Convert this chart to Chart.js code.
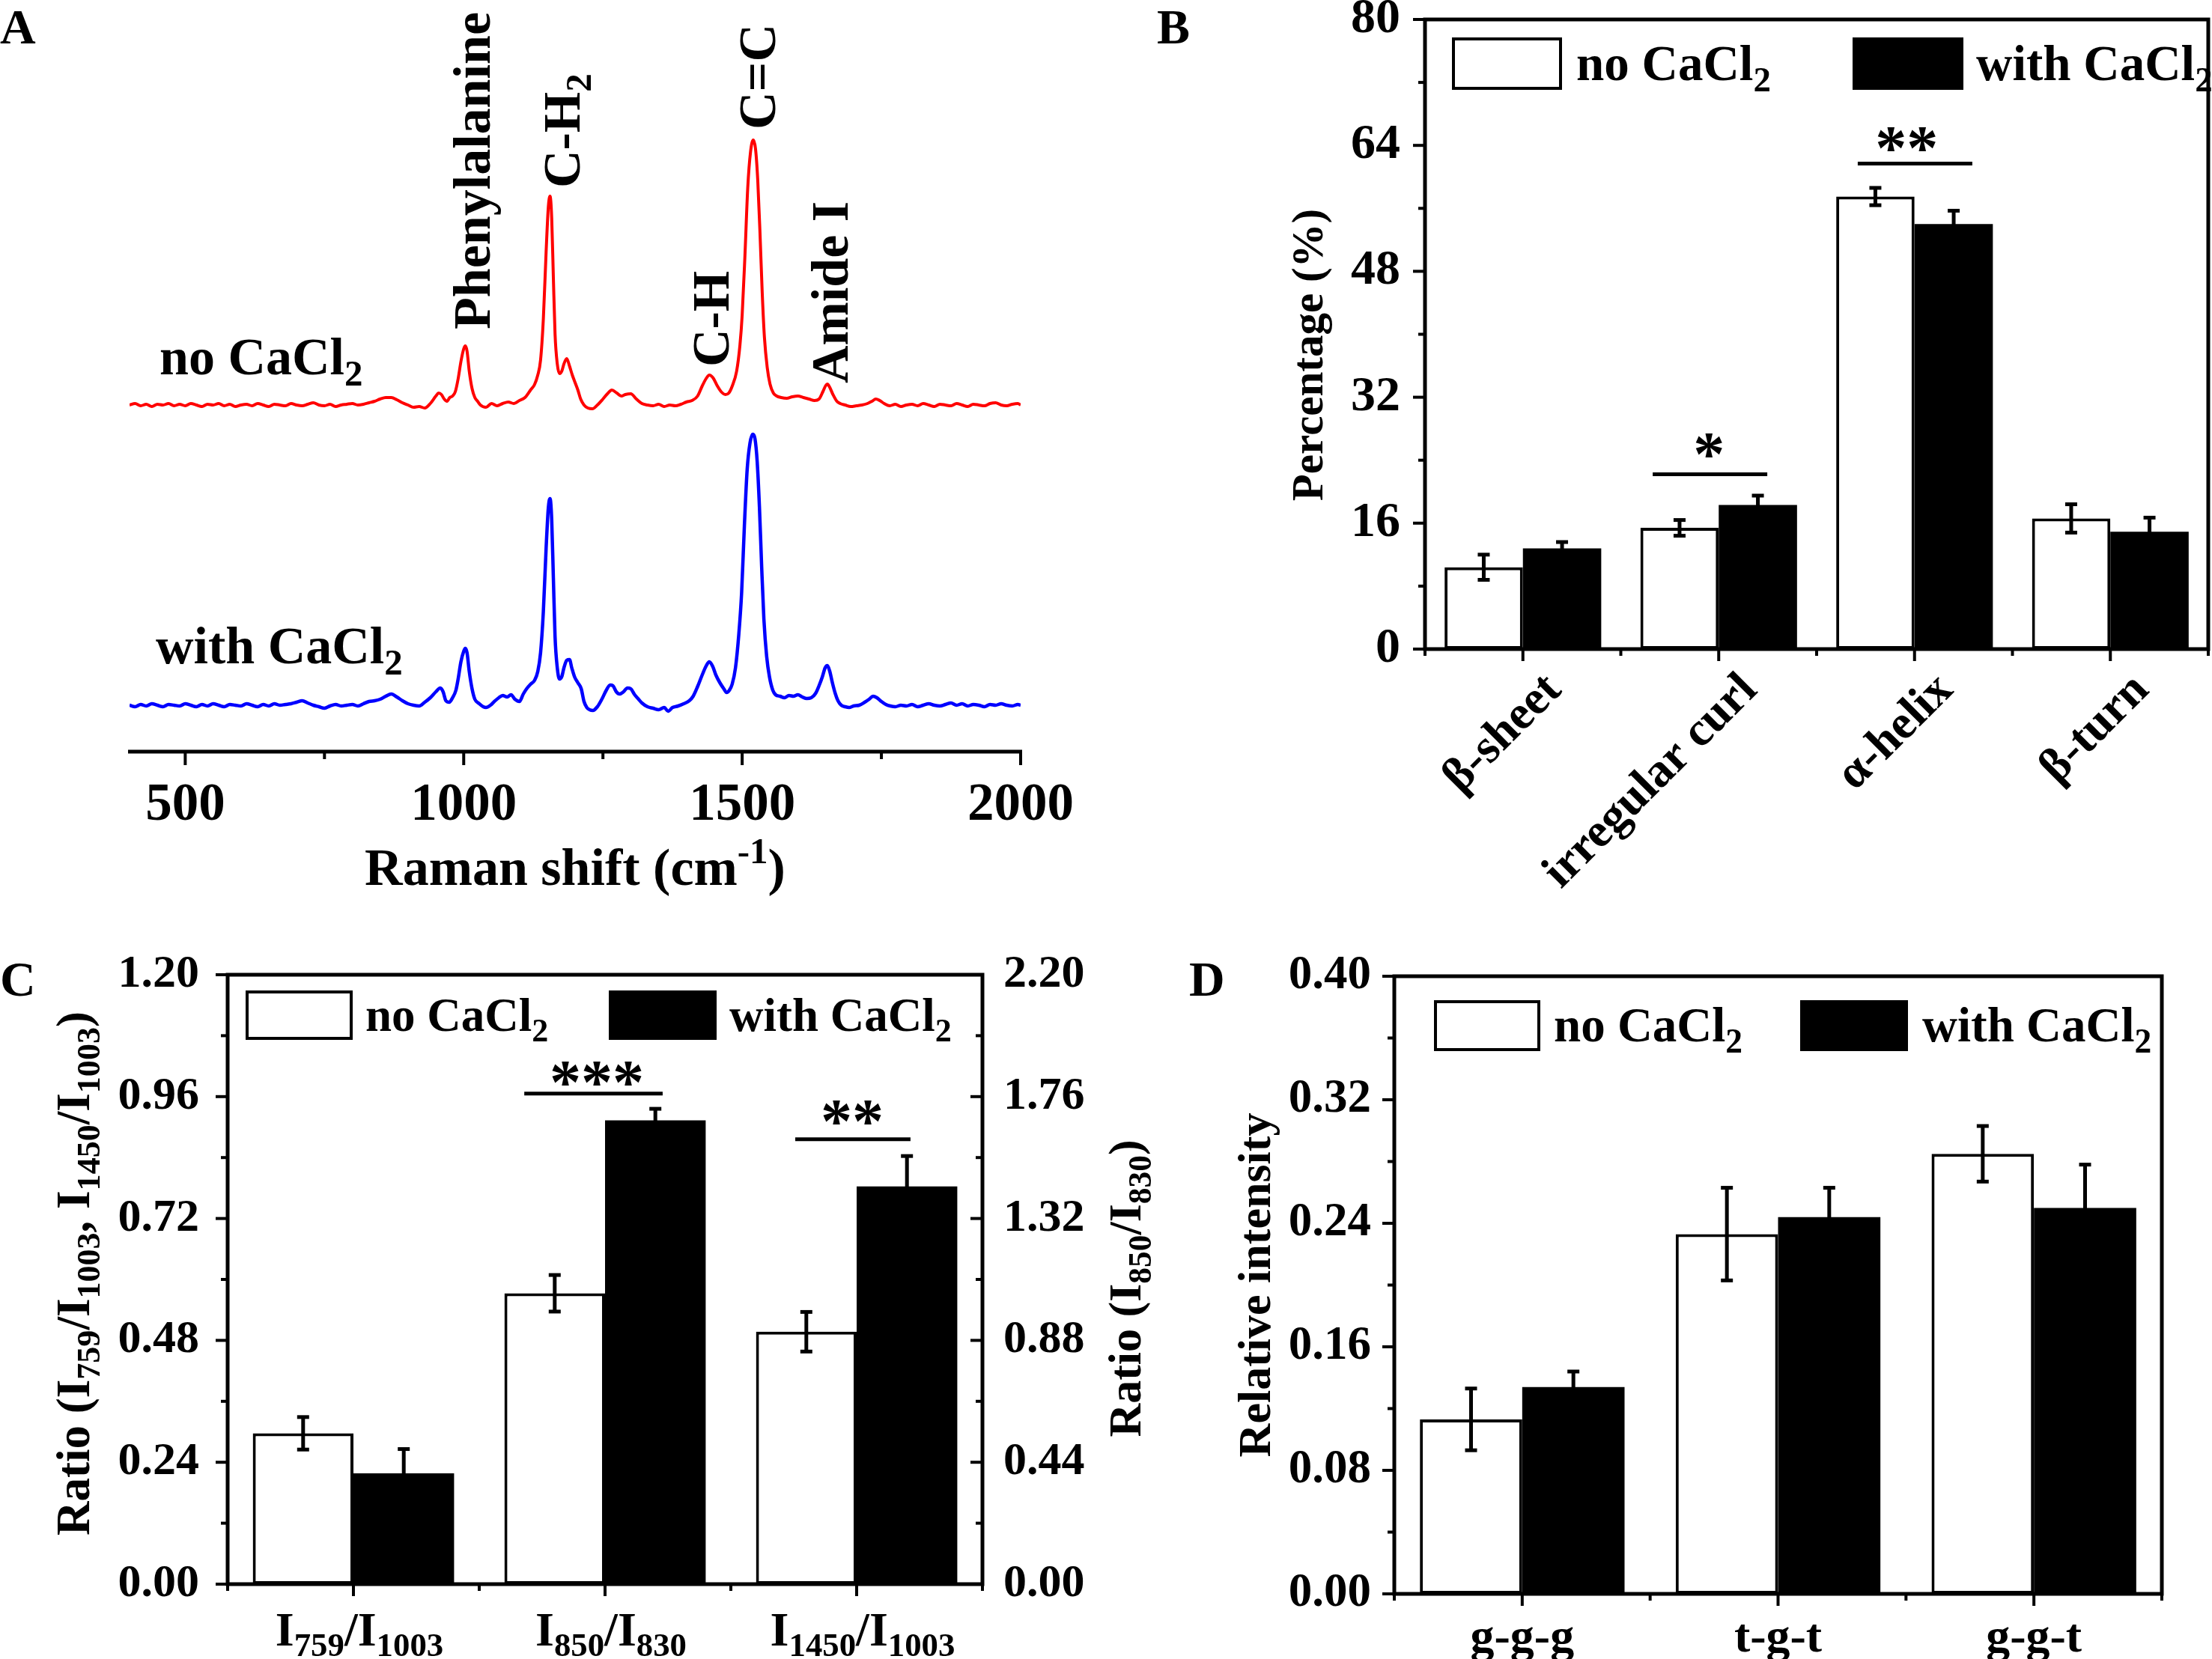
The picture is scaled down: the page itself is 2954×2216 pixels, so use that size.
<!DOCTYPE html>
<html><head><meta charset="utf-8">
<script src="https://cdn.jsdelivr.net/npm/chart.js@4.4.1/dist/chart.umd.min.js"></script>
<style>
html,body{margin:0;padding:0;background:#fff;}
#page{position:relative;width:2954px;height:2216px;background:#fff;overflow:hidden;}
canvas{position:absolute;}
</style></head><body>
<div id="page">
<canvas id="cA" width="1480" height="1240" style="left:0;top:0;width:1480px;height:1240px"></canvas>
<canvas id="cB" width="1474" height="1240" style="left:1480px;top:0;width:1474px;height:1240px"></canvas>
<canvas id="cC" width="1580" height="976" style="left:0;top:1240px;width:1580px;height:976px"></canvas>
<canvas id="cD" width="1374" height="976" style="left:1580px;top:1240px;width:1374px;height:976px"></canvas>
</div>
<script>
// ---------------- DATA ----------------
// Panel A: Raman spectra [shift (cm-1), relative intensity (a.u., baseline-corrected)]
const spectrumNoCaCl2 = [[400,0],[410,2],[420,-1],[430,1],[440,-2],[450,1],[460,0],[470,2],[480,-1],[490,1],[500,-1],[510,2],[520,0],[530,-2],[540,1],[550,0],[560,2],[570,-1],[580,1],[590,-2],[600,0],[610,1],[620,-1],[630,2],[640,0],[650,-2],[660,1],[670,0],[680,-1],[690,2],[700,0],[710,-1],[720,1],[730,3],[740,0],[750,-1],[760,1],[770,-2],[780,0],[790,1],[800,2],[810,0],[820,1],[830,3],[840,5],[850,8],[860,10],[870,10],[880,7],[890,3],[900,0],[910,-3],[920,-2],[930,-4],[940,2],[950,12],[955,16],[960,14],[965,8],[970,5],[975,10],[980,12],[985,18],[990,35],[995,58],[1000,75],[1003,79],[1006,72],[1010,45],[1015,22],[1020,10],[1025,5],[1030,0],[1040,-3],[1050,2],[1060,-1],[1070,2],[1080,4],[1090,2],[1100,6],[1110,10],[1120,20],[1127,27],[1133,40],[1138,60],[1143,115],[1148,205],[1152,265],[1155,279],[1158,250],[1161,170],[1164,95],[1168,55],[1172,42],[1176,45],[1180,55],[1185,62],[1190,52],[1195,40],[1200,30],[1205,20],[1210,8],[1216,0],[1223,-4],[1231,-5],[1240,0],[1250,8],[1258,15],[1266,20],[1275,16],[1283,12],[1290,14],[1300,15],[1310,8],[1320,2],[1330,0],[1340,-1],[1350,1],[1360,-2],[1370,0],[1380,-1],[1390,1],[1400,4],[1410,6],[1420,12],[1428,25],[1435,35],[1441,40],[1448,36],[1455,26],[1462,18],[1470,14],[1476,16],[1482,25],[1490,45],[1496,80],[1500,120],[1505,200],[1510,290],[1515,338],[1520,354],[1524,342],[1528,300],[1532,230],[1536,150],[1540,90],[1545,50],[1550,28],[1556,16],[1562,12],[1570,10],[1580,9],[1590,11],[1600,12],[1610,10],[1620,8],[1630,6],[1638,8],[1645,18],[1650,26],[1653,28],[1657,24],[1663,14],[1670,5],[1676,2],[1685,0],[1695,-2],[1705,-1],[1715,0],[1725,2],[1733,5],[1740,8],[1747,6],[1755,2],[1765,-1],[1775,1],[1785,-2],[1795,0],[1805,1],[1815,-1],[1825,2],[1835,0],[1845,-2],[1855,1],[1865,0],[1875,-1],[1885,2],[1895,0],[1905,-2],[1915,1],[1925,0],[1935,-1],[1945,2],[1955,3],[1965,0],[1975,-1],[1985,1],[1995,2],[2000,0]];
const spectrumWithCaCl2 = [[400,0],[410,-2],[420,1],[430,-1],[440,2],[450,0],[460,-2],[470,1],[480,0],[490,-1],[500,2],[510,0],[520,-2],[530,1],[540,-1],[550,2],[560,0],[570,-2],[580,1],[590,0],[600,-1],[610,2],[620,0],[630,-2],[640,1],[650,-1],[660,2],[670,0],[680,1],[690,2],[700,4],[710,6],[720,3],[730,0],[740,-2],[750,-4],[760,-1],[770,1],[780,-1],[790,0],[800,1],[810,-1],[820,2],[830,5],[840,6],[850,8],[860,12],[870,15],[880,11],[890,6],[900,2],[910,0],[920,-1],[930,4],[940,10],[950,18],[958,23],[963,18],[968,6],[974,4],[980,10],[986,20],[990,35],[995,58],[1000,72],[1003,76],[1006,70],[1010,45],[1015,22],[1020,8],[1028,2],[1035,-2],[1040,-3],[1048,0],[1055,5],[1063,10],[1070,13],[1078,11],[1085,14],[1092,8],[1100,5],[1107,15],[1113,22],[1120,28],[1127,33],[1133,45],[1138,70],[1143,125],[1148,210],[1152,264],[1155,276],[1158,248],[1161,170],[1164,92],[1168,50],[1172,35],[1176,38],[1180,50],[1185,60],[1190,61],[1194,50],[1199,38],[1205,30],[1211,22],[1216,5],[1221,-3],[1226,-6],[1232,-7],[1240,-2],[1248,8],[1256,20],[1263,27],[1268,26],[1274,18],[1280,15],[1287,18],[1294,23],[1300,22],[1307,14],[1314,8],[1320,3],[1330,-2],[1340,-4],[1350,-6],[1360,-3],[1367,-8],[1375,-3],[1385,-1],[1395,2],[1405,6],[1412,12],[1420,25],[1428,40],[1435,52],[1441,58],[1447,52],[1453,40],[1460,30],[1467,22],[1472,17],[1477,20],[1482,28],[1488,50],[1494,95],[1499,150],[1504,240],[1509,315],[1514,350],[1519,362],[1523,356],[1527,325],[1531,265],[1535,185],[1539,115],[1544,65],[1549,38],[1555,20],[1560,14],[1568,12],[1576,10],[1584,13],[1592,12],[1600,14],[1608,11],[1616,9],[1624,10],[1632,16],[1638,26],[1644,38],[1649,50],[1653,53],[1657,46],[1662,30],[1667,16],[1672,6],[1678,0],[1685,-2],[1692,-3],[1700,-1],[1710,0],[1720,4],[1728,8],[1735,12],[1742,10],[1750,5],[1758,1],[1766,-1],[1775,-2],[1785,0],[1795,-1],[1805,1],[1815,-2],[1825,0],[1835,2],[1845,0],[1855,-1],[1865,1],[1875,3],[1885,0],[1895,2],[1905,-1],[1915,1],[1925,0],[1935,-2],[1945,1],[1955,0],[1965,2],[1975,0],[1985,-1],[1995,1],[2000,0]];
const offsetNoCaCl2 = 463;     // vertical stacking offset (a.u.)
const offsetWithCaCl2 = 62;
const ramanTicks = [500, 1000, 1500, 2000];
const ramanMinorTicks = [750, 1250, 1750];
const peakLabels = [
  {text:'Phenylalanine', shift:1016, y:564},
  {text:'C-H_{2}', shift:1177, y:753},
  {text:'C-H', shift:1445, y:514},
  {text:'C=C', shift:1528, y:831},
  {text:'Amide I', shift:1658, y:492}
];

// Panel B: secondary structure (%)
const structCategories = ['\u03B2-sheet', 'irregular curl', '\u03B1-helix', '\u03B2-turn'];
const structNo = [10.4, 15.4, 57.5, 16.6];
const structNoErr = [1.6, 1.0, 1.1, 1.8];
const structWith = [12.8, 18.3, 54.0, 14.9];
const structWithErr = [0.8, 1.2, 1.7, 1.8];
const pctTicks = [0, 16, 32, 48, 64, 80];
const pctMinor = [8, 24, 40, 56, 72];
const structSig = [
  {from:0.663, to:1.248, y:22.2, label:'*', labelX:0.95, labelY:25.9},
  {from:1.71, to:2.295, y:61.7, label:'**', labelX:1.96, labelY:64.8}
];

// Panel C: Raman intensity ratios
const ratioSubs = [['759','1003'], ['850','830'], ['1450','1003']];
const ratioCategories = ratioSubs.map(([a,b]) => 'I' + a + '/I' + b);
const ratioNoLeft = [0.297, null, 0.497];
const ratioNoLeftErr = [0.032, null, 0.039];
const ratioWithLeft = [0.218, null, 0.783];
const ratioWithLeftErr = [0.048, null, 0.060];
const ratioNoRight = [null, 1.05, null];
const ratioNoRightErr = [null, 0.066, null];
const ratioWithRight = [null, 1.674, null];
const ratioWithRightErr = [null, 0.042, null];
const ratioLeftTicks = [0, 0.24, 0.48, 0.72, 0.96, 1.20];
const ratioLeftMinor = [0.12, 0.36, 0.60, 0.84, 1.08];
const ratioRightTicks = [0, 0.44, 0.88, 1.32, 1.76, 2.20];
const ratioRightMinor = [0.22, 0.66, 1.10, 1.54, 1.98];
const ratioSig = [
  {from:0.679, to:1.229, y:0.966, label:'***', labelX:0.967, labelY:1.006},
  {from:1.756, to:2.214, y:0.876, label:'**', labelX:1.982, labelY:0.929}
];

// Panel D: S-S conformations relative intensity
const confCategories = ['g-g-g', 't-g-t', 'g-g-t'];
const confNo = [0.113, 0.233, 0.285];
const confNoErr = [0.020, 0.030, 0.018];
const confWith = [0.134, 0.244, 0.250];
const confWithErr = [0.010, 0.019, 0.028];
const relTicks = [0, 0.08, 0.16, 0.24, 0.32, 0.40];
const relMinor = [0.04, 0.12, 0.20, 0.28, 0.36];

// ---------------- HELPERS ----------------
const FAM = '"Liberation Serif", "Times New Roman", serif';
const SUB = 0.7;
function fnt(s){ return 'bold ' + s + 'px ' + FAM; }
function rich(str){
  const segs = []; const re = /([_^])\{([^}]*)\}|([^_^]+)/g; let m;
  while ((m = re.exec(str))) { if (m[3]) segs.push([m[3], 'n']); else segs.push([m[2], m[1] === '_' ? 'sub' : 'sup']); }
  return segs;
}
function richWidth(ctx, segs, size){
  let w = 0; for (const [t,k] of segs) { ctx.font = fnt(k === 'n' ? size : size*SUB); w += ctx.measureText(t).width; } return w;
}
function drawRich(ctx, str, x, y, size, o){
  o = o || {}; const segs = rich(str);
  ctx.save(); ctx.translate(x, y); if (o.rotate) ctx.rotate(o.rotate);
  const w = richWidth(ctx, segs, size);
  let cx = o.align === 'center' ? -w/2 : (o.align === 'right' ? -w : 0);
  ctx.textAlign = 'left'; ctx.textBaseline = 'alphabetic'; ctx.fillStyle = '#000';
  for (const [t,k] of segs) {
    const s = k === 'n' ? size : size*SUB; ctx.font = fnt(s);
    const dy = k === 'sub' ? size*0.22 : (k === 'sup' ? -size*0.42 : 0);
    ctx.fillText(t, cx, dy); cx += ctx.measureText(t).width;
  }
  ctx.restore();
}
function seg(ctx, x1, y1, x2, y2){ ctx.beginPath(); ctx.moveTo(x1,y1); ctx.lineTo(x2,y2); ctx.stroke(); }
function drawErrors(ctx, chart, di, errs){
  const meta = chart.getDatasetMeta(di); const sc = chart.scales[meta.yAxisID];
  const vals = chart.data.datasets[di].data;
  ctx.lineWidth = 5; ctx.strokeStyle = '#000';
  meta.data.forEach((el, i) => {
    const v = vals[i], e = errs[i]; if (v == null || e == null) return;
    const x = el.x, y1 = sc.getPixelForValue(v + e), y2 = sc.getPixelForValue(v - e);
    seg(ctx, x, y1, x, y2); seg(ctx, x - 8, y1, x + 8, y1); seg(ctx, x - 8, y2, x + 8, y2);
  });
}
function drawSig(ctx, chart, s, yId){
  const xs = chart.scales.x, ys = chart.scales[yId];
  ctx.lineWidth = 5; ctx.strokeStyle = '#000';
  const y = ys.getPixelForValue(s.y);
  seg(ctx, xs.getPixelForValue(s.from), y, xs.getPixelForValue(s.to), y);
  ctx.font = fnt(84); ctx.textAlign = 'center'; ctx.textBaseline = 'alphabetic'; ctx.fillStyle = '#000';
  const m = ctx.measureText(s.label);
  ctx.fillText(s.label, xs.getPixelForValue(s.labelX), ys.getPixelForValue(s.labelY) + (m.actualBoundingBoxAscent - m.actualBoundingBoxDescent)/2);
}
function drawTicks(ctx, chart, t){
  const sc = chart.scales[t.axis], ca = chart.chartArea;
  ctx.lineWidth = 4; ctx.strokeStyle = '#000';
  t.values.forEach(v => {
    const p = sc.getPixelForValue(v);
    if (t.axis === 'x') seg(ctx, p, ca.bottom, p, ca.bottom + t.len);
    else { const x0 = t.side === 'right' ? ca.right : ca.left; seg(ctx, x0, p, x0 + t.dir*t.len, p); }
  });
}
function legendBoxes(ctx, items, size){
  items.forEach(it => {
    if (it.fill) { ctx.fillStyle = '#000'; ctx.fillRect(it.x, it.y, it.w, it.h); }
    else { ctx.lineWidth = 4; ctx.strokeStyle = '#000'; ctx.strokeRect(it.x + 2, it.y + 2, it.w - 4, it.h - 4); }
    drawRich(ctx, it.text, it.tx, it.y + it.h/2 + size*0.33, size);
  });
}
function decor(cfg){
  return {
    id: 'decor',
    afterDatasetsDraw(chart){
      const ctx = chart.ctx, ca = chart.chartArea;
      ctx.save(); ctx.lineCap = 'butt';
      (cfg.errors || []).forEach(([di, errs]) => drawErrors(ctx, chart, di, errs));
      (cfg.sig || []).forEach(s => drawSig(ctx, chart, s, cfg.sigAxis || 'y'));
      ctx.lineWidth = 5; ctx.strokeStyle = '#000';
      if (cfg.box) ctx.strokeRect(ca.left, ca.top, ca.right - ca.left, ca.bottom - ca.top);
      else seg(ctx, ca.left - 2, ca.bottom, ca.right + 2, ca.bottom);
      (cfg.ticks || []).forEach(t => drawTicks(ctx, chart, t));
      ctx.restore();
    },
    afterDraw(chart){ if (cfg.texts) { const ctx = chart.ctx; ctx.save(); cfg.texts(ctx, chart); ctx.restore(); } }
  };
}
function tickFont(size){ return {family: FAM, size: size, weight: 'bold'}; }
const noAnim = {responsive:false, animation:false, events:[], plugins:{legend:{display:false}, tooltip:{enabled:false}}};
function idx(n){ return Array.from({length:n}, (_, i) => i); }
function bounds(n){ return Array.from({length:n+1}, (_, i) => i - 0.5); }
// fix scale box sizes so that the plot areas land exactly where the reference has them
function fixH(h){ return s => { s.height = h; s.paddingLeft = 0; s.paddingRight = 0; s.paddingTop = 0; s.paddingBottom = 0; }; }
function fixW(w){ return s => { s.width = w; s.paddingLeft = 0; s.paddingRight = 0; s.paddingTop = 0; s.paddingBottom = 0; }; }

// ---------------- PANEL A ----------------
new Chart(document.getElementById('cA'), {
  type: 'line',
  data: { datasets: [
    { data: spectrumNoCaCl2.map(([x, v]) => ({x: x, y: v + offsetNoCaCl2})), borderColor: '#ff0000', borderWidth: 4, pointRadius: 0, tension: 0, cubicInterpolationMode: 'monotone' },
    { data: spectrumWithCaCl2.map(([x, v]) => ({x: x, y: v + offsetWithCaCl2})), borderColor: '#0000ff', borderWidth: 4.5, pointRadius: 0, tension: 0, cubicInterpolationMode: 'monotone' }
  ]},
  options: Object.assign({}, noAnim, {
    layout: {padding: {left: 173, right: 117, top: 100, bottom: 0}},
    scales: {
      x: { type: 'linear', min: 400, max: 2000, grid: {display: false}, border: {display: false},
           afterBuildTicks: s => { s.ticks = ramanTicks.map(v => ({value: v})); },
           afterFit: fixH(236),
           ticks: {font: tickFont(71), color: '#000', padding: 22, maxRotation: 0, autoSkip: false, callback: v => String(v)} },
      y: { display: false, min: 0, max: 904 }
    }
  }),
  plugins: [decor({
    box: false,
    ticks: [{axis: 'x', values: ramanTicks, len: 18}, {axis: 'x', values: ramanMinorTicks, len: 10}],
    texts: (ctx, chart) => {
      const xs = chart.scales.x, ys = chart.scales.y;
      drawRich(ctx, 'A', 0, 58, 66);
      drawRich(ctx, 'no CaCl_{2}', 213, 500, 70);
      drawRich(ctx, 'with CaCl_{2}', 208, 886, 70);
      peakLabels.forEach(p => drawRich(ctx, p.text, xs.getPixelForValue(p.shift) + 0.33*70, ys.getPixelForValue(p.y), 70, {rotate: -Math.PI/2}));
      drawRich(ctx, 'Raman shift (cm^{-1})', 768, 1182, 70, {align: 'center'});
    }
  })]
});

// ---------------- PANEL B ----------------
new Chart(document.getElementById('cB'), {
  type: 'bar',
  data: { labels: structCategories, datasets: [
    { data: structNo, backgroundColor: '#ffffff', borderColor: '#000', borderWidth: 4, borderSkipped: false, categoryPercentage: 0.8, barPercentage: 1.0 },
    { data: structWith, backgroundColor: '#000000', borderColor: '#000', borderWidth: 0, categoryPercentage: 0.8, barPercentage: 1.0 }
  ]},
  options: Object.assign({}, noAnim, {
    layout: {padding: {left: 0, right: 5, top: 26, bottom: 0}},
    scales: {
      x: { grid: {display: false}, border: {display: false}, afterFit: fixH(373),
           ticks: {font: tickFont(64), color: '#000', minRotation: 45, maxRotation: 45, padding: 10, labelOffset: 42, autoSkip: false} },
      y: { min: 0, max: 80, grid: {display: false}, border: {display: false},
           afterBuildTicks: s => { s.ticks = pctTicks.map(v => ({value: v})); },
           afterFit: fixW(423),
           ticks: {font: tickFont(66), color: '#000', padding: 25} }
    }
  }),
  plugins: [decor({
    box: true,
    errors: [[0, structNoErr], [1, structWithErr]],
    sig: structSig,
    ticks: [{axis: 'y', side: 'left', dir: -1, values: pctTicks, len: 16}, {axis: 'y', side: 'left', dir: -1, values: pctMinor, len: 9},
            {axis: 'x', values: idx(structCategories.length), len: 16}, {axis: 'x', values: bounds(structCategories.length), len: 9}],
    texts: (ctx) => {
      drawRich(ctx, 'B', 65, 58, 66);
      legendBoxes(ctx, [
        {x: 459, y: 50, w: 147, h: 70, fill: false, text: 'no CaCl_{2}', tx: 625},
        {x: 994, y: 50, w: 148, h: 70, fill: true, text: 'with CaCl_{2}', tx: 1159}
      ], 67);
      drawRich(ctx, 'Percentage (%)', 286, 474, 59, {align: 'center', rotate: -Math.PI/2});
    }
  })]
});

// ---------------- PANEL C ----------------
const fmt2 = v => Number(v).toFixed(2);
new Chart(document.getElementById('cC'), {
  type: 'bar',
  data: { labels: ratioCategories, datasets: [
    { data: ratioNoLeft, yAxisID: 'y', backgroundColor: '#ffffff', borderColor: '#000', borderWidth: 4, borderSkipped: false, skipNull: true, categoryPercentage: 0.8, barPercentage: 1.0 },
    { data: ratioWithLeft, yAxisID: 'y', backgroundColor: '#000000', borderWidth: 0, skipNull: true, categoryPercentage: 0.8, barPercentage: 1.0 },
    { data: ratioNoRight, yAxisID: 'y2', backgroundColor: '#ffffff', borderColor: '#000', borderWidth: 4, borderSkipped: false, skipNull: true, categoryPercentage: 0.8, barPercentage: 1.0 },
    { data: ratioWithRight, yAxisID: 'y2', backgroundColor: '#000000', borderWidth: 0, skipNull: true, categoryPercentage: 0.8, barPercentage: 1.0 }
  ]},
  options: Object.assign({}, noAnim, {
    layout: {padding: {left: 0, right: 0, top: 62, bottom: 0}},
    scales: {
      x: { grid: {display: false}, border: {display: false}, afterFit: fixH(100), ticks: {display: false} },
      y: { position: 'left', min: 0, max: 1.2, grid: {display: false}, border: {display: false},
           afterBuildTicks: s => { s.ticks = ratioLeftTicks.map(v => ({value: v})); },
           afterFit: fixW(304),
           ticks: {font: tickFont(62), color: '#000', padding: 30, callback: fmt2} },
      y2: { position: 'right', min: 0, max: 2.2, grid: {display: false}, border: {display: false},
           afterBuildTicks: s => { s.ticks = ratioRightTicks.map(v => ({value: v})); },
           afterFit: fixW(268),
           ticks: {font: tickFont(62), color: '#000', padding: 20, callback: fmt2} }
    }
  }),
  plugins: [decor({
    box: true,
    errors: [[0, ratioNoLeftErr], [1, ratioWithLeftErr], [2, ratioNoRightErr], [3, ratioWithRightErr]],
    sig: ratioSig, sigAxis: 'y',
    ticks: [{axis: 'y', side: 'left', dir: -1, values: ratioLeftTicks, len: 16}, {axis: 'y', side: 'left', dir: -1, values: ratioLeftMinor, len: 9},
            {axis: 'y2', side: 'right', dir: -1, values: ratioRightTicks, len: 16}, {axis: 'y2', side: 'right', dir: -1, values: ratioRightMinor, len: 9},
            {axis: 'x', values: idx(ratioCategories.length), len: 16}, {axis: 'x', values: bounds(ratioCategories.length), len: 9}],
    texts: (ctx, chart) => {
      drawRich(ctx, 'C', 0, 90, 66);
      legendBoxes(ctx, [
        {x: 328, y: 83, w: 143, h: 66, fill: false, text: 'no CaCl_{2}', tx: 488},
        {x: 813, y: 83, w: 144, h: 66, fill: true, text: 'with CaCl_{2}', tx: 974}
      ], 63);
      const ca = chart.chartArea, mid = (ca.top + ca.bottom)/2;
      drawRich(ctx, 'Ratio (I_{759}/I_{1003}, I_{1450}/I_{1003})', 119, mid - 8, 63, {align: 'center', rotate: -Math.PI/2});
      drawRich(ctx, 'Ratio (I_{850}/I_{830})', 1523, mid + 12, 62, {align: 'center', rotate: -Math.PI/2});
      ratioSubs.forEach(([a, b], i) => drawRich(ctx, 'I_{' + a + '}/I_{' + b + '}', chart.scales.x.getPixelForValue(i) + 8, 958, 64, {align: 'center'}));
    }
  })]
});

// ---------------- PANEL D ----------------
new Chart(document.getElementById('cD'), {
  type: 'bar',
  data: { labels: confCategories, datasets: [
    { data: confNo, backgroundColor: '#ffffff', borderColor: '#000', borderWidth: 4, borderSkipped: false, categoryPercentage: 0.8, barPercentage: 1.0 },
    { data: confWith, backgroundColor: '#000000', borderWidth: 0, categoryPercentage: 0.8, barPercentage: 1.0 }
  ]},
  options: Object.assign({}, noAnim, {
    layout: {padding: {left: 0, right: 67, top: 64, bottom: 0}},
    scales: {
      x: { grid: {display: false}, border: {display: false}, afterFit: fixH(87),
           ticks: {font: tickFont(64), color: '#000', padding: 14, maxRotation: 0, autoSkip: false} },
      y: { min: 0, max: 0.4, grid: {display: false}, border: {display: false},
           afterBuildTicks: s => { s.ticks = relTicks.map(v => ({value: v})); },
           afterFit: fixW(282),
           ticks: {font: tickFont(63), color: '#000', padding: 23, callback: fmt2} }
    }
  }),
  plugins: [decor({
    box: true,
    errors: [[0, confNoErr], [1, confWithErr]],
    ticks: [{axis: 'y', side: 'left', dir: -1, values: relTicks, len: 16}, {axis: 'y', side: 'left', dir: -1, values: relMinor, len: 9},
            {axis: 'x', values: idx(confCategories.length), len: 16}, {axis: 'x', values: bounds(confCategories.length), len: 9}],
    texts: (ctx, chart) => {
      drawRich(ctx, 'D', 8, 90, 66);
      legendBoxes(ctx, [
        {x: 335, y: 96, w: 142, h: 68, fill: false, text: 'no CaCl_{2}', tx: 495},
        {x: 824, y: 96, w: 144, h: 68, fill: true, text: 'with CaCl_{2}', tx: 987}
      ], 65);
      const ca = chart.chartArea;
      drawRich(ctx, 'Relative intensity', 116, (ca.top + ca.bottom)/2, 62, {align: 'center', rotate: -Math.PI/2});
    }
  })]
});
</script>
</body></html>
